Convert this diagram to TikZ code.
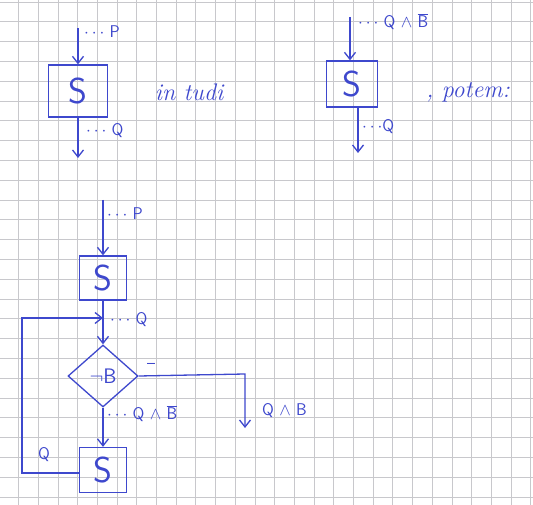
\documentclass[tikz,border=0pt]{standalone}
\usetikzlibrary{arrows.meta,shapes.geometric}
\definecolor{ink}{RGB}{62,72,205}
\definecolor{gridc}{RGB}{200,200,204}
\tikzset{
  ink/.style={draw=ink,line width=1.3pt},
  arr/.style={ink,-{Straight Barb[length=7pt,width=11pt]}},
  box/.style={ink,rectangle,inner sep=0pt,text=ink,font=\sffamily\fontsize{36}{36}\selectfont},
  dia/.style={ink,diamond,inner sep=0pt,minimum width=70pt,minimum height=62pt,text=ink},
  lbl/.style={text=ink,font=\sffamily\fontsize{17}{17}\selectfont,inner sep=0pt,anchor=west},
  hand/.style={text=ink,font=\itshape\fontsize{24}{24}\selectfont,inner sep=0pt},
}
\begin{document}
\begin{tikzpicture}[x=1pt,y=-1pt]
\useasboundingbox (0,0) rectangle (533,505);
\fill[white] (0,0) rectangle (533,505);
% grid paper
\foreach \i in {0,...,26} {\draw[gridc,line width=0.7pt] (18.5+19.7*\i,0) -- (18.5+19.7*\i,505);}
\foreach \j in {0,...,25} {\draw[gridc,line width=0.7pt] (0,2+19.8*\j) -- (533,2+19.8*\j);}
% ---- top left
\node[box,minimum width=59pt,minimum height=52pt] (s1) at (78,91) {S};
\coordinate (p1) at (78,28);
\coordinate (q1) at (78,158);
\draw[arr] (p1) -- (s1.north);
\draw[arr] (s1.south) -- (q1);
\node[lbl] (lp1) at (84,32) {$\cdots$ P};
\node[lbl] (lq1) at (86,131) {$\cdots$ Q};
\node[hand] (tudi) at (189,92) {in tudi};
% ---- top right
\node[box,minimum width=51pt,minimum height=46pt] (s2) at (352,84) {S};
\coordinate (p2) at (350,17);
\coordinate (q2) at (358,153);
\draw[arr] (p2) -- (p2 |- s2.north);
\draw[arr] (q2 |- s2.south) -- (q2);
\node[lbl] (lp2) at (358,22) {$\cdots$ Q $\wedge$ $\overline{\mbox{B}}$};
\node[lbl] (lq2) at (362,127) {$\cdots$Q};
\node[hand] (potem) at (468,92) {, potem:};
% ---- bottom flow chart
\node[box,minimum width=47pt,minimum height=44pt] (s3) at (103,278) {S};
\coordinate (p3) at (103,200);
\draw[arr] (p3) -- (s3.north);
\node[lbl] (lp3) at (107,214) {$\cdots$ P};
\node[dia] (d) at (103,376) {\textcolor{ink}{\fontsize{21}{21}\selectfont$\neg$\sffamily B}};
\coordinate (j) at (103,318);
\draw[ink] (s3.south) -- (j);
\draw[arr] (j) -- (d.north);
\node[lbl] (lq3) at (110,320) {$\cdots$ Q};
\node[box,minimum width=47pt,minimum height=45pt] (s4) at (103,470) {S};
\draw[arr] (d.south) -- (s4.north);
\node[lbl] (lqb) at (107,414) {$\cdots$ Q $\wedge$ $\overline{\mbox{B}}$};
\coordinate (c1) at (22,473);
\coordinate (c2) at (22,318);
\draw[arr] (s4.west |- c1) -- (c1) -- (c2) -- (j);
\node[lbl] (lq4) at (38,455) {Q};
\coordinate (e1) at (245,374);
\coordinate (e2) at (245,428);
\draw[arr] (d.east) -- (e1) -- (e2);
\node[lbl] (minus) at (147,366) {--};
\node[lbl] (lqb2) at (262,411) {Q $\wedge$ B};
\end{tikzpicture}
\end{document}
